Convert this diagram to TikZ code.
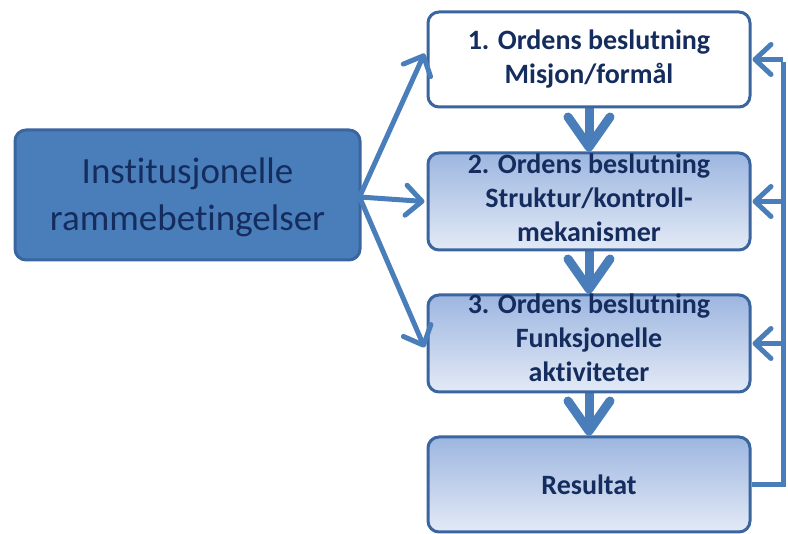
\documentclass[tikz,border=0pt]{standalone}
\usepackage{fontspec}
\setmainfont{Carlito}[Ligatures=NoCommon]
\usetikzlibrary{arrows.meta}
\pgfdeclarelayer{background}
\pgfsetlayers{background,main}
\definecolor{arrowblue}{HTML}{4A7EBB}
\definecolor{edgeblue}{HTML}{3A659F}
\definecolor{txtnavy}{HTML}{142D5E}
\definecolor{gradtop}{HTML}{9DB6E0}
\definecolor{gradbot}{HTML}{E3EAF6}
\tikzset{
  box/.style={draw=edgeblue, line width=3pt, rounded corners=11pt, minimum width=322pt, inner sep=0pt},
  gradbox/.style={box, top color=gradtop, bottom color=gradbot},
  boxtext/.style={text=txtnavy, font=\fontsize{28pt}{34pt}\selectfont\bfseries, align=center, inner sep=0pt},
  bigarrow/.style={draw=arrowblue, line width=9pt, -{Straight Barb[length=30pt,width=42pt,round]}},
  thinarrow/.style={draw=arrowblue, line width=5pt, -{Straight Barb[length=16pt,width=30pt,round]}},
  fbline/.style={draw=arrowblue, line width=5pt}
}
\begin{document}
\begin{tikzpicture}[x=1pt,y=-1pt]
\useasboundingbox (0,0) rectangle (788,534);
% left box
\node[box, fill=arrowblue, minimum width=345pt, minimum height=130pt] (L) at (187.5,195) {};
\node[text=txtnavy, font=\fontsize{37pt}{47pt}\selectfont, align=center, inner sep=0pt] (Lt) at ([yshift=-2pt]L.center) {Institusjonelle\\rammebetingelser};
% right boxes
\node[box, fill=white, minimum height=95pt] (b1) at (589,59.5) {};
\node[gradbox, minimum height=97pt] (b2) at (589,201.5) {};
\node[gradbox, minimum height=97pt] (b3) at (589,343.5) {};
\node[gradbox, minimum height=95pt] (b4) at (589,484.5) {};
\node[boxtext] (t1) at (b1.center) {1. Ordens beslutning\\Misjon/formål};
\node[boxtext] (t2) at ([yshift=4pt]b2.center) {2. Ordens beslutning\\Struktur/kontroll-\\mekanismer};
\node[boxtext] (t3) at ([yshift=6pt]b3.center) {3. Ordens beslutning\\Funksjonelle\\aktiviteter};
\node[boxtext] (t4) at (b4.center) {Resultat};
\coordinate (fbx) at (783,0);
\begin{pgfonlayer}{background}
\draw[bigarrow] (b1.south) -- (b2.north);
\draw[bigarrow] (b2.south) -- (b3.north);
\draw[bigarrow] (b3.south) -- (b4.north);
\end{pgfonlayer}
% left arrows
\draw[thinarrow] ([xshift=-2pt,yshift=-2pt]L.east) -- ([xshift=-2pt,yshift=6pt]b1.west);
\draw[thinarrow] ([xshift=-2pt,yshift=-2pt]L.east) -- ([xshift=-2pt]b2.west);
\draw[thinarrow] ([xshift=-2pt,yshift=-2pt]L.east) -- ([xshift=-2pt,yshift=-4pt]b3.west);
% feedback
\draw[fbline, line join=miter] (b4.east) -- (b4.east -| fbx) -- ([yshift=-2.5pt]b1.east -| fbx);
\draw[thinarrow] (b1.east -| fbx) -- ([xshift=1pt]b1.east);
\draw[thinarrow] (b2.east -| fbx) -- ([xshift=1pt]b2.east);
\draw[thinarrow] (b3.east -| fbx) -- ([xshift=1pt]b3.east);
\end{tikzpicture}
\end{document}
